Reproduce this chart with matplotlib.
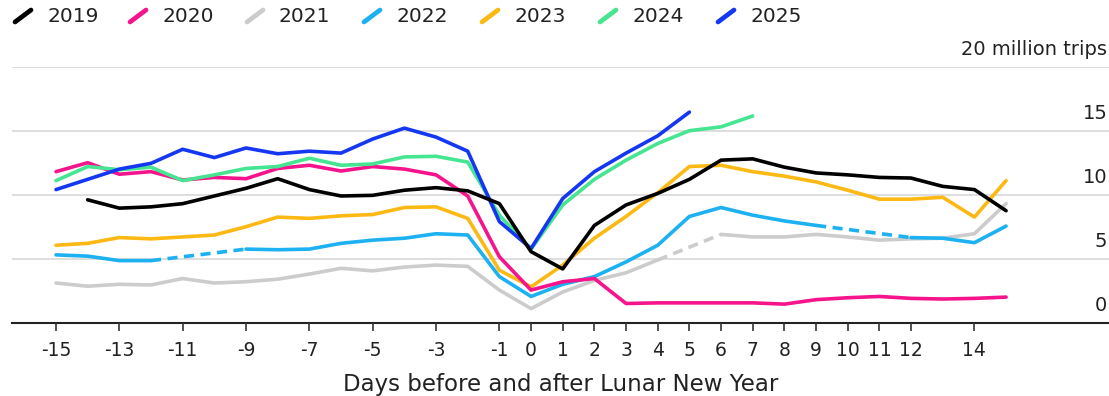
import numpy as np
import matplotlib
matplotlib.use("Agg")
import matplotlib.pyplot as plt
from matplotlib.lines import Line2D

nan = np.nan

# Days relative to Lunar New Year
days = list(range(-15, 16))

# Daily trips, millions
trips_2019 = [nan, 9.6, 8.95, 9.05, 9.3, 9.9, 10.5, 11.25, 10.4, 9.9, 9.95, 10.35, 10.55,
              10.3, 9.3, 5.55, 4.2, 7.6, 9.2, 10.1, 11.2, 12.7, 12.8, 12.15, 11.7, 11.55,
              11.35, 11.3, 10.65, 10.4, 8.75]
trips_2020 = [11.8, 12.5, 11.6, 11.8, 11.15, 11.35, 11.25, 12.05, 12.3, 11.85, 12.2, 12.0,
              11.55, 9.9, 5.15, 2.55, 3.2, 3.45, 1.5, 1.55, 1.55, 1.55, 1.55, 1.45, 1.8,
              1.95, 2.05, 1.9, 1.85, 1.9, 2.0]
trips_2021 = [3.1, 2.85, 3.0, 2.95, 3.45, 3.1, 3.2, 3.4, 3.8, 4.25, 4.05, 4.35, 4.5, 4.4,
              2.55, 1.1, 2.4, 3.3, 3.9, 4.9, nan, 6.9, 6.7, 6.7, 6.9, 6.7, 6.45, 6.55,
              6.6, 6.95, 9.3]
trips_2022 = [5.3, 5.2, 4.85, 4.85, nan, nan, 5.75, 5.7, 5.75, 6.2, 6.45, 6.6, 6.95, 6.85,
              3.6, 2.05, 3.0, 3.6, 4.75, 6.05, 8.3, 9.0, 8.4, 7.95, 7.6, nan, nan, 6.65,
              6.6, 6.25, 7.55]
trips_2023 = [6.05, 6.2, 6.65, 6.55, 6.7, 6.85, 7.5, 8.25, 8.15, 8.35, 8.45, 9.0, 9.05,
              8.15, 4.1, 2.8, 4.5, 6.6, 8.3, 10.15, 12.2, 12.3, 11.8, 11.45, 11.0, 10.35,
              9.65, 9.65, 9.8, 8.25, 11.1]
trips_2024 = [11.1, 12.2, 11.95, 12.15, 11.1, 11.55, 12.05, 12.2, 12.85, 12.3, 12.4, 12.95,
              13.0, 12.55, 8.4, 5.75, 9.2, 11.2, 12.7, 14.0, 15.0, 15.3, 16.15,
              nan, nan, nan, nan, nan, nan, nan, nan]
trips_2025 = [10.4, 11.2, 12.0, 12.45, 13.55, 12.9, 13.65, 13.2, 13.4, 13.25, 14.35, 15.2,
              14.5, 13.4, 7.9, 5.8, 9.7, 11.8, 13.25, 14.6, 16.45,
              nan, nan, nan, nan, nan, nan, nan, nan, nan, nan]

years = ["2019", "2020", "2021", "2022", "2023", "2024", "2025"]
series = [trips_2019, trips_2020, trips_2021, trips_2022, trips_2023, trips_2024, trips_2025]
colors = ["#000000", "#f5148c", "#cccccc", "#1db1f2", "#fdb913", "#45e592", "#1537f2"]

tick_days = [-15, -13, -11, -9, -7, -5, -3, -1, 0, 1, 2, 3, 4, 5, 6, 7, 8, 9, 10, 11, 12, 14]
tick_labels = [str(d) for d in tick_days]
y_levels = [0, 5, 10, 15, 20]
y_labels = ["0", "5", "10", "15", "20 million trips"]

W, H = 1109, 396
fig = plt.figure(figsize=(W / 100, H / 100), dpi=100)
fig.patch.set_facecolor("white")

# axes box in pixels: left 12, right 1109, top 66.7 (value 20), bottom 322.7 (value 0)
ax = fig.add_axes([12 / W, (H - 322.7) / H, (W - 12) / W, 256 / H])
ax.set_xlim(-16.39, 18.25)
ax.set_ylim(0, 20)

for s in ["top", "right", "left"]:
    ax.spines[s].set_visible(False)
ax.spines["bottom"].set_color("#222222")
ax.spines["bottom"].set_linewidth(1.5)
ax.spines["bottom"].set_zorder(1)

for lv in y_levels[1:]:
    ax.axhline(lv, color="#dedede", lw=1.4, zorder=0)

ax.set_yticks([])
ax.set_xticks(tick_days)
ax.set_xticklabels(tick_labels, fontsize=13.5, family="DejaVu Sans", color="#222222")
ax.tick_params(axis="x", length=6, width=1.2, color="#333333", pad=7.5)

ax.set_xlabel("Days before and after Lunar New Year", fontsize=16.5,
              family="DejaVu Sans", color="#222222", labelpad=9)

# value labels above each gridline, right-aligned
for lv, lab in zip(y_levels, y_labels):
    ax.text(0.9985, lv + 0.88, lab, transform=ax.get_yaxis_transform(),
            ha="right", va="baseline", fontsize=14, family="DejaVu Sans",
            color="#222222")

draw_order = [2, 3, 4, 1, 5, 6, 0]
x = np.array(days, dtype=float)
for z, i in enumerate(draw_order):
    y = np.array(series[i], dtype=float)
    c = colors[i]
    ax.plot(x, y, color=c, lw=2.6, solid_joinstyle="round", solid_capstyle="round",
            zorder=3 + z)
    # dashed bridge over missing days
    valid = ~np.isnan(y)
    idx = np.where(valid)[0]
    for a, b in zip(idx[:-1], idx[1:]):
        if b - a > 1:
            ax.plot([x[a], x[b]], [y[a], y[b]], color=c, lw=2.6,
                    linestyle=(0, (2.8, 1.8)), dash_capstyle="butt", zorder=3 + z)

# legend row across the top
leg_x = [15, 130, 247, 364, 482, 600, 718]
for px, yr, c in zip(leg_x, years, colors):
    fig.add_artist(Line2D([px / W, (px + 16) / W], [1 - 22 / H, 1 - 10 / H],
                          transform=fig.transFigure, color=c, lw=3.4,
                          solid_capstyle="round"))
    fig.text((px + 32) / W, 1 - 22 / H, yr, ha="left", va="baseline",
             fontsize=14.5, family="DejaVu Sans", color="#222222")

fig.savefig("out.png", dpi=100, facecolor="white")
